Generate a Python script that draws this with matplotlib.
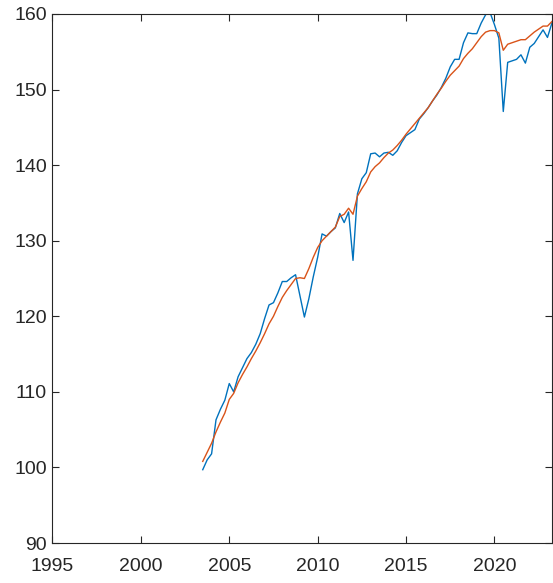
import numpy as np
from matplotlib import pyplot as plt

plt.rcParams['font.family'] = ['Liberation Sans', 'DejaVu Sans']

# quarterly, 2003Q3 .. 2023Q2
t = 2003.5 + np.arange(80) * 0.25

actual = [99.7, 101.0, 101.8, 106.3, 107.7, 108.9, 111.1, 110.0,
          112.0, 113.2, 114.4, 115.2, 116.3, 117.7, 119.7, 121.5,
          121.8, 123.1, 124.6, 124.6, 125.1, 125.5, 122.7, 119.9,
          122.3, 125.2, 127.8, 130.9, 130.6, 131.2, 131.7, 133.6,
          132.4, 133.8, 127.4, 136.2, 138.2, 139.0, 141.5, 141.6,
          141.1, 141.6, 141.7, 141.3, 141.9, 143.0, 143.9, 144.3,
          144.7, 146.1, 146.8, 147.6, 148.5, 149.3, 150.3, 151.5,
          153.0, 154.0, 154.0, 156.2, 157.5, 157.4, 157.4, 158.8,
          159.9, 160.2, 158.6, 156.8, 147.1, 153.6, 153.8, 154.0,
          154.6, 153.5, 155.6, 156.1, 157.0, 157.9, 156.9, 158.8]

smooth = [100.8, 102.0, 103.2, 104.7, 106.0, 107.2, 109.0, 109.8,
          111.2, 112.3, 113.3, 114.4, 115.4, 116.5, 117.7, 119.0,
          120.0, 121.3, 122.5, 123.4, 124.2, 125.0, 125.1, 125.0,
          126.3, 127.8, 129.1, 130.0, 130.6, 131.2, 131.8, 133.2,
          133.5, 134.3, 133.5, 135.9, 136.9, 137.8, 139.1, 139.8,
          140.3, 141.0, 141.6, 142.0, 142.6, 143.3, 144.1, 144.8,
          145.5, 146.2, 146.9, 147.6, 148.5, 149.4, 150.2, 151.1,
          151.9, 152.5, 153.1, 154.1, 154.8, 155.4, 156.2, 157.0,
          157.6, 157.8, 157.8, 157.5, 155.2, 156.0, 156.2, 156.4,
          156.6, 156.6, 157.1, 157.6, 158.0, 158.4, 158.4, 159.0]

xticks = [1995, 2000, 2005, 2010, 2015, 2020]
yticks = [90, 100, 110, 120, 130, 140, 150, 160]

fig = plt.figure(figsize=(5.53, 5.83), dpi=100)
ax = fig.add_axes([0.0949, 0.0686, 0.9031, 0.9074])

ax.plot(t, actual, color='#0072BD', lw=1.0)
ax.plot(t, smooth, color='#D95319', lw=1.0)

ax.set_xlim(1995, 2023.25)
ax.set_ylim(90, 160)
ax.set_xticks(xticks)
ax.set_yticks(yticks)
ax.tick_params(direction='in', length=5, width=0.8, colors='#262626',
               labelsize=14, top=True, right=True, pad=4)
ax.tick_params(axis='x', pad=11)
for s in ax.spines.values():
    s.set_color('#262626')
    s.set_linewidth(0.8)

fig.savefig('out.png', dpi=100)
